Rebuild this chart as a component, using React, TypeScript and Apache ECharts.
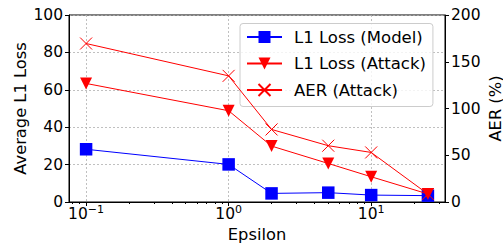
import React, { useEffect, useRef } from "react";
import * as echarts from "echarts";

const epsilons = [0.1, 1, 2, 5, 10, 25];
const l1Model = [28.2, 20.1, 4.6, 5.0, 3.7, 3.4];
const l1Attack = [63.4, 48.8, 29.9, 20.6, 13.5, 4.3];
const aerAttack = [169.5, 134.9, 77.6, 60.2, 53.0, 8.5];
const majorTickExps = [-1, 0, 1];
const minorTickVals = [0.08, 0.09, 0.2, 0.3, 0.4, 0.5, 0.6, 0.7, 0.8, 0.9, 2, 3, 4, 5, 6, 7, 8, 9, 20, 30];
const seriesNames = ["L1 Loss (Model)", "L1 Loss (Attack)", "AER (Attack)"];

const FONT = "DejaVu Sans";
const XMIN = -1.1199;
const XMAX = 1.5178;
const TICK_FS = 15.5;
const NAME_FS = 16.3;

export default function App() {
  const ref = useRef<HTMLDivElement>(null);
  useEffect(() => {
    if (!ref.current) return;
    const chart = echarts.init(ref.current, undefined, { renderer: "svg" });
    const lg = (v: number) => Math.log10(v);
    const pts = (ys: number[]) => epsilons.map((e, i) => [lg(e), ys[i]]);
    const gridLine = { show: true, lineStyle: { color: "#b0b0b0", type: [2, 2], width: 0.8 } };
    chart.setOption({
      animation: false,
      textStyle: { fontFamily: FONT },
      grid: {
        left: 69, right: 58, top: 15, bottom: 42,
        containLabel: false, outerBoundsMode: "none",
        show: true, borderColor: "#000", borderWidth: 1,
      },
      legend: {
        left: 240,
        top: 23.5,
        orient: "vertical",
        data: seriesNames,
        itemWidth: 35,
        itemHeight: 15,
        itemGap: 9.5,
        padding: [5, 7, 8, 6],
        backgroundColor: "rgba(255,255,255,0.8)",
        borderColor: "#cccccc",
        borderWidth: 1,
        borderRadius: 3,
        textStyle: { fontFamily: FONT, fontSize: 16.5, color: "#000", lineHeight: 15, padding: [0, 0, 0, 7] },
      },
      xAxis: [
        {
          type: "value",
          min: XMIN,
          max: XMAX,
          name: "Epsilon",
          nameLocation: "middle",
          nameGap: 24,
          nameMoveOverlap: false,
          nameTextStyle: { fontFamily: FONT, fontSize: NAME_FS, color: "#000" },
          axisLine: { onZero: false, lineStyle: { color: "#000", width: 1 } },
          axisTick: { show: true, length: 4, customValues: majorTickExps, lineStyle: { color: "#000" } },
          axisLabel: {
            customValues: majorTickExps,
            margin: 2,
            formatter: (v: number) => `{b|10}{s|${String(Math.round(v)).replace("-", "−")}}`,
            rich: {
              b: { fontFamily: FONT, fontSize: TICK_FS, color: "#000" },
              s: { fontFamily: FONT, fontSize: 11, color: "#000", padding: [0, 0, 8, 0] },
            },
          },
          splitLine: gridLine,
        },
        {
          type: "value",
          min: XMIN,
          max: XMAX,
          position: "bottom",
          axisLine: { show: false, onZero: false },
          axisTick: { show: true, length: 2, customValues: minorTickVals.map((v) => Math.log10(v)), lineStyle: { color: "#000" } },
          axisLabel: { show: false },
          splitLine: { show: false },
        },
      ],
      yAxis: [
        {
          type: "value",
          min: 0,
          max: 100,
          interval: 20,
          name: "Average L1 Loss",
          nameLocation: "middle",
          nameGap: 41,
          nameRotate: 90,
          nameMoveOverlap: false,
          nameTextStyle: { fontFamily: FONT, fontSize: NAME_FS, color: "#000" },
          axisLine: { show: true, onZero: false, lineStyle: { color: "#000", width: 1 } },
          axisTick: { show: true, length: 4, lineStyle: { color: "#000" } },
          axisLabel: { fontFamily: FONT, fontSize: TICK_FS, color: "#000", margin: 6 },
          splitLine: gridLine,
        },
        {
          type: "value",
          min: 0,
          max: 200,
          interval: 50,
          position: "right",
          name: "AER (%)",
          nameLocation: "middle",
          nameGap: 42.5,
          nameRotate: 90,
          nameMoveOverlap: false,
          nameTextStyle: { fontFamily: FONT, fontSize: NAME_FS, color: "#000" },
          axisLine: { show: true, onZero: false, lineStyle: { color: "#000", width: 1 } },
          axisTick: { show: true, length: 4, lineStyle: { color: "#000" } },
          axisLabel: { fontFamily: FONT, fontSize: TICK_FS, color: "#000", margin: 6 },
          splitLine: { show: false },
        },
      ],
      series: [
        {
          name: seriesNames[0],
          type: "line",
          xAxisIndex: 0,
          yAxisIndex: 0,
          data: pts(l1Model),
          symbol: "rect",
          symbolSize: 12.5,
          color: "#0000ff",
          lineStyle: { color: "#0000ff", width: 1 },
          itemStyle: { color: "#0000ff" },
          z: 3,
        },
        {
          name: seriesNames[1],
          type: "line",
          xAxisIndex: 0,
          yAxisIndex: 0,
          data: pts(l1Attack),
          symbol: "path://M0,0L10,0L5,10Z",
          symbolSize: [12, 12],
          color: "#ff0000",
          lineStyle: { color: "#ff0000", width: 1 },
          itemStyle: { color: "#ff0000" },
          z: 4,
        },
        {
          name: seriesNames[2],
          type: "line",
          xAxisIndex: 0,
          yAxisIndex: 1,
          data: pts(aerAttack),
          symbol: "path://M0,0L10,10M10,0L0,10",
          symbolSize: 12,
          color: "#ff0000",
          lineStyle: { color: "#ff0000", width: 1 },
          itemStyle: { color: "#ff0000", borderColor: "#ff0000", borderWidth: 1 },
          z: 5,
        },
      ],
    });
    return () => chart.dispose();
  }, []);
  return <div ref={ref} style={{ width: 503, height: 244, position: "absolute", left: 0, top: 0 }} />;
}
